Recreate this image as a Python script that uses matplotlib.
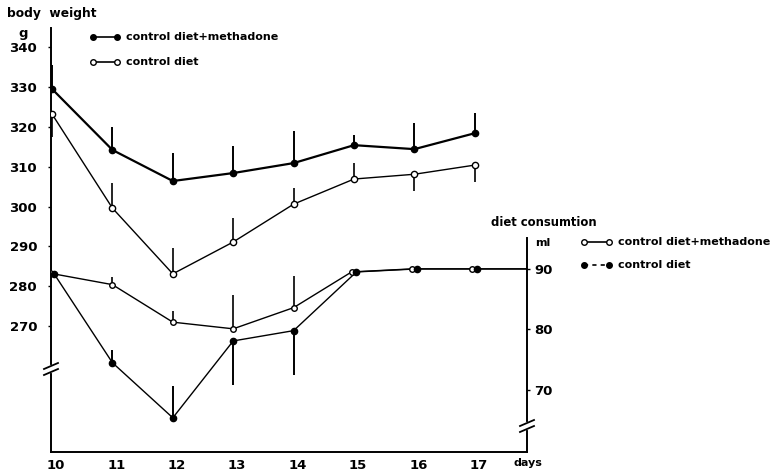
import matplotlib
matplotlib.use("Agg")
import matplotlib.pyplot as plt
import matplotlib.transforms as mtransforms
from matplotlib.lines import Line2D

plt.rcParams["font.family"] = ["DejaVu Sans"]
plt.rcParams["font.weight"] = "bold"

# ---- data -------------------------------------------------------------
days = [10, 11, 12, 13, 14, 15, 16, 17]
day_ticks = [10, 11, 12, 13, 14, 15, 16, 17]

# body weight (g)
bw_methadone = [329.5, 314.2, 306.4, 308.4, 310.9, 315.4, 314.4, 318.4]
bw_methadone_err = [6.0, 5.7, 7.0, 6.8, 8.0, 2.5, 6.5, 5.0]      # + up, - down
bw_control = [323.2, 299.6, 283.1, 291.1, 300.6, 306.9, 308.1, 310.4]
bw_control_err = [-5.8, 6.3, 6.5, 6.0, 4.0, 4.0, -4.3, -4.3]

# diet consumption (ml)
diet_methadone = [89.3, 87.4, 81.2, 80.1, 83.6, 89.5, 90.0, 90.0]
diet_methadone_err = [0, 1.2, 1.8, 5.6, 5.2, 0, 0, 0]
diet_control = [89.1, 74.5, 65.4, 78.1, 79.8, 89.5, 90.0, 90.0]
diet_control_err = [0, 2.1, 5.2, -7.3, -7.3, 0, 0, 0]

bw_ticks = [270, 280, 290, 300, 310, 320, 330, 340]
ml_ticks = [70, 80, 90]

# ---- figure -------------------------------------------------------------
W, H = 773, 471
fig = plt.figure(figsize=(W / 100, H / 100), dpi=100)

def fx(px):
    return px / W

def fy(py):
    return 1 - py / H

ax_l, ax_r, ax_t, ax_b = 51, 527, 28, 452
ax = fig.add_axes([fx(ax_l), fy(ax_b), (ax_r - ax_l) / W, (ax_b - ax_t) / H])
ax2 = ax.twinx()

ax.set_xlim(9.983, 17.864)
ax.set_ylim(238.4, 344.8)
ax2.set_ylim(59.75, 129.8)

fs = 9.5
for a in (ax, ax2):
    a.patch.set_visible(False)
    a.spines["top"].set_visible(False)
ax.spines["right"].set_visible(False)
ax2.spines["left"].set_visible(False)
ax2.spines["bottom"].set_visible(False)
ax2.spines["right"].set_bounds(59.75, 95.1)
for s in ("left", "bottom"):
    ax.spines[s].set_linewidth(1.4)
ax2.spines["right"].set_linewidth(1.4)

ax.set_xticks(day_ticks)
ax.set_xticklabels([str(d) for d in day_ticks], fontsize=fs, fontweight="bold")
ax.tick_params(axis="x", length=0, pad=5)
shift = mtransforms.ScaledTranslation(4 / 100, 0, fig.dpi_scale_trans)
for lbl in ax.get_xticklabels():
    lbl.set_transform(lbl.get_transform() + shift)

ax.set_yticks(bw_ticks)
ax.set_yticklabels([str(v) for v in bw_ticks], fontsize=fs, fontweight="bold")
ax.tick_params(axis="y", length=2, width=1, pad=8)

ax2.set_yticks(ml_ticks)
ax2.set_yticklabels([str(v) for v in ml_ticks], fontsize=fs, fontweight="bold")
ax2.tick_params(axis="y", length=2, width=1, pad=3)

# ---- body weight --------------------------------------------------------
ax.plot(days, bw_methadone, color="black", lw=1.6, marker="o", ms=4.5,
        mfc="black", mec="black", zorder=3)
ax.plot(days, bw_control, color="black", lw=1.0, marker="o", ms=4.5,
        mfc="white", mec="black", mew=1.0, zorder=3)
ax.vlines(days, bw_methadone, [v + e for v, e in zip(bw_methadone, bw_methadone_err)],
          color="black", lw=1.4, zorder=2)
ax.vlines(days, bw_control, [v + e for v, e in zip(bw_control, bw_control_err)],
          color="black", lw=1.2, zorder=2)

# ---- diet consumption ---------------------------------------------------
# separate overlapping points a little so both markers stay visible
dx_open = [-0.04 if abs(a - b) < 0.5 else 0 for a, b in zip(diet_methadone, diet_control)]
dx_fill = [0.04 if abs(a - b) < 0.5 else 0 for a, b in zip(diet_methadone, diet_control)]
x_open = [d + o for d, o in zip(days, dx_open)]
x_fill = [d + o for d, o in zip(days, dx_fill)]
xr = ax.get_xlim()[1]

ax2.plot(x_open + [xr], diet_methadone + [diet_methadone[-1]], color="black", lw=1.0, zorder=3)
ax2.plot(x_fill + [xr], diet_control + [diet_control[-1]], color="black", lw=1.0, zorder=3)
ax2.plot(x_open, diet_methadone, ls="none", marker="o", ms=4, mfc="white",
         mec="black", mew=1.0, zorder=4)
ax2.plot(x_fill, diet_control, ls="none", marker="o", ms=4.5, mfc="black",
         mec="black", zorder=4)
ax2.vlines(x_open, diet_methadone, [v + e for v, e in zip(diet_methadone, diet_methadone_err)],
           color="black", lw=1.2, zorder=2)
ax2.vlines(x_fill, diet_control, [v + e for v, e in zip(diet_control, diet_control_err)],
           color="black", lw=1.4, zorder=2)

# ---- axis breaks --------------------------------------------------------
def axis_break(xc, y1, y2):
    # white gap in the spine, then two slanted strokes
    fig.add_artist(Line2D([fx(xc), fx(xc)], [fy(y1 + 1), fy(y2 - 1)], color="white", lw=3,
                          transform=fig.transFigure, zorder=10))
    for yy in (y1, y2):
        fig.add_artist(Line2D([fx(xc - 7), fx(xc + 7)], [fy(yy + 3), fy(yy - 3)],
                              color="black", lw=1.3, transform=fig.transFigure, zorder=11))

axis_break(ax_l, 366, 372)
axis_break(ax_r, 423, 429)

# ---- text and legends ---------------------------------------------------
tkw = dict(fontsize=8.0, fontweight="bold", va="center", transform=fig.transFigure)
fig.text(fx(7), fy(13), "body  weight", ha="left", fontsize=8.8, fontweight="bold",
         va="center", transform=fig.transFigure)
fig.text(fx(23), fy(33), "g", ha="center", fontsize=9.5, fontweight="bold",
         va="center", transform=fig.transFigure)
fig.text(fx(513), fy(463), "days", ha="left", **tkw)
fig.text(fx(491), fy(222), "diet consumtion", ha="left", fontsize=8.4, fontweight="bold",
         va="center", transform=fig.transFigure)
fig.text(fx(535), fy(243), "ml", ha="left", **tkw)

def legend_entry(x0, x1, y, filled, dashed, label):
    ls = (0, (2.5, 2.5)) if dashed else "-"
    fig.add_artist(Line2D([fx(x0), fx(x1)], [fy(y), fy(y)], color="black", lw=1.2, ls=ls,
                          transform=fig.transFigure))
    fig.add_artist(Line2D([fx(x0), fx(x1)], [fy(y), fy(y)], ls="none", marker="o",
                          ms=4, mfc="black" if filled else "white", mec="black", mew=1.0,
                          transform=fig.transFigure))
    fig.text(fx(x1 + 9), fy(y), label, ha="left", **tkw)

legend_entry(93, 117, 37, True, False, "control diet+methadone")
legend_entry(93, 117, 62, False, False, "control diet")
legend_entry(584, 609, 242, False, False, "control diet+methadone")
legend_entry(584, 609, 265, True, True, "control diet")

fig.savefig("out.png", dpi=100)
